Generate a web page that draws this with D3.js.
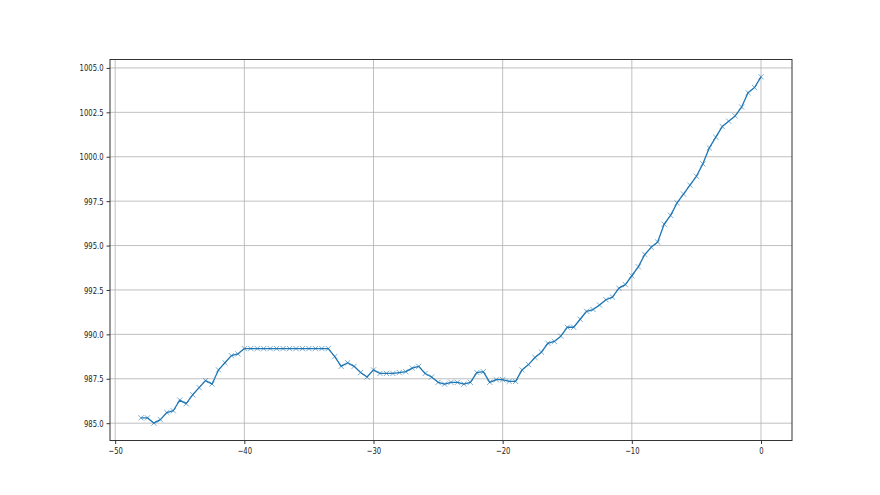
<!DOCTYPE html>
<html>
<head>
<meta charset="utf-8">
<script src="https://cdn.jsdelivr.net/npm/d3@7"></script>
<style>
  body { margin: 0; background: #fff; }
  svg text { font-family: "DejaVu Sans", sans-serif; }
</style>
</head>
<body>
<svg id="chart" width="880" height="495"></svg>
<script>
// data
var minutes = [
  -48, -47.5, -47, -46.5, -46, -45.5, -45, -44.5, -44, -43.5, -43, -42.5,
  -42, -41.5, -41, -40.5, -40, -39.5, -39, -38.5, -38, -37.5, -37, -36.5,
  -36, -35.5, -35, -34.5, -34, -33.5, -33, -32.5, -32, -31.5, -31, -30.5,
  -30, -29.5, -29, -28.5, -28, -27.5, -27, -26.5, -26, -25.5, -25, -24.5,
  -24, -23.5, -23, -22.5, -22, -21.5, -21, -20.5, -20, -19.5, -19, -18.5,
  -18, -17.5, -17, -16.5, -16, -15.5, -15, -14.5, -14, -13.5, -13, -12.5,
  -12, -11.5, -11, -10.5, -10, -9.5, -9, -8.5, -8, -7.5, -7, -6.5,
  -6, -5.5, -5, -4.5, -4, -3.5, -3, -2.5, -2, -1.5, -1, -0.5, 0
]
var pressure = [
  985.3, 985.3, 985.0, 985.2, 985.6, 985.7, 986.3, 986.1, 986.6, 987.0, 987.4, 987.2,
  988.0, 988.4, 988.8, 988.9, 989.2, 989.2, 989.2, 989.2, 989.2, 989.2, 989.2, 989.2,
  989.2, 989.2, 989.2, 989.2, 989.2, 989.2, 988.75, 988.2, 988.4, 988.2, 987.85, 987.6,
  988.0, 987.8, 987.8, 987.8, 987.85, 987.9, 988.1, 988.2, 987.8, 987.6, 987.3, 987.2,
  987.3, 987.3, 987.2, 987.3, 987.85, 987.9, 987.3, 987.45, 987.45, 987.35, 987.35, 988.0,
  988.3, 988.7, 989.0, 989.5, 989.6, 989.9, 990.4, 990.4, 990.85, 991.3, 991.4, 991.65,
  991.95, 992.1, 992.6, 992.8, 993.3, 993.8, 994.5, 994.9, 995.2, 996.2, 996.7, 997.4,
  997.9, 998.4, 998.9, 999.6, 1000.5, 1001.1, 1001.7, 1002.0, 1002.3, 1002.8, 1003.6, 1003.9, 1004.5
]
var xTicks = [-50, -40, -30, -20, -10, 0]
var yTicks = [985.0, 987.5, 990.0, 992.5, 995.0, 997.5, 1000.0, 1002.5, 1005.0]

// constants
var WIDTH = 880, HEIGHT = 495
var MARGIN = { left: 110, right: 88, top: 59.5, bottom: 54.5 }
var LINE_COLOR = '#1f77b4'
var GRID_COLOR = '#b0b0b0'
var SQUEEZE = 0.72 // tick labels look horizontally narrow in the original

var svg = d3.select('#chart')
var plotW = WIDTH - MARGIN.left - MARGIN.right
var plotH = HEIGHT - MARGIN.top - MARGIN.bottom

// matplotlib style 5% padding
var xMin = d3.min(minutes), xMax = d3.max(minutes)
var yMin = d3.min(pressure), yMax = d3.max(pressure)
var xPad = (xMax - xMin) * 0.05, yPad = (yMax - yMin) * 0.05

var x = d3.scaleLinear().domain([xMin - xPad, xMax + xPad]).range([0, plotW])
var y = d3.scaleLinear().domain([yMin - yPad, yMax + yPad]).range([plotH, 0])

var g = svg.append('g').attr('transform', 'translate(' + MARGIN.left + ',' + MARGIN.top + ')')

// grid
g.append('g').selectAll('line').data(xTicks).enter().append('line')
  .attr('x1', function (d) { return x(d) }).attr('x2', function (d) { return x(d) })
  .attr('y1', 0).attr('y2', plotH)
  .attr('stroke', GRID_COLOR).attr('stroke-width', 0.8)
g.append('g').selectAll('line').data(yTicks).enter().append('line')
  .attr('y1', function (d) { return y(d) }).attr('y2', function (d) { return y(d) })
  .attr('x1', 0).attr('x2', plotW)
  .attr('stroke', GRID_COLOR).attr('stroke-width', 0.8)

// axes
var xAxis = d3.axisBottom(x).tickValues(xTicks).tickSize(3.5).tickPadding(3).tickFormat(d3.format('d'))
var yAxis = d3.axisLeft(y).tickValues(yTicks).tickSize(3.5).tickPadding(3).tickFormat(d3.format('.1f'))

var gx = g.append('g').attr('transform', 'translate(0,' + plotH + ')').call(xAxis)
var gy = g.append('g').call(yAxis)
;[gx, gy].forEach(function (ax) {
  ax.select('.domain').remove()
  ax.selectAll('.tick line').attr('stroke', '#000').attr('stroke-width', 0.8)
  ax.selectAll('.tick text').attr('fill', '#222').style('font-size', '9.5px')
})
// squeeze labels horizontally, keeping their anchor points
gy.selectAll('.tick text').each(function () {
  var t = d3.select(this)
  var x0 = +t.attr('x')
  t.attr('x', x0 / SQUEEZE).attr('transform', 'scale(' + SQUEEZE + ',1)')
})
gx.selectAll('.tick text').attr('transform', 'scale(' + SQUEEZE + ',1)')

// line
var data = minutes.map(function (m, i) { return [m, pressure[i]] })
var line = d3.line().x(function (d) { return x(d[0]) }).y(function (d) { return y(d[1]) })
g.append('path').datum(data)
  .attr('d', line)
  .attr('fill', 'none')
  .attr('stroke', LINE_COLOR)
  .attr('stroke-width', 1.3)
  .attr('stroke-linejoin', 'round')

// x markers
var ms = 2.6
g.append('g').selectAll('path').data(data).enter().append('path')
  .attr('d', function (d) {
    var cx = x(d[0]), cy = y(d[1])
    return 'M' + (cx - ms) + ',' + (cy - ms) + 'L' + (cx + ms) + ',' + (cy + ms) +
      'M' + (cx - ms) + ',' + (cy + ms) + 'L' + (cx + ms) + ',' + (cy - ms)
  })
  .attr('stroke', LINE_COLOR)
  .attr('stroke-opacity', 0.6)
  .attr('stroke-width', 1)
  .attr('fill', 'none')

// frame
g.append('rect')
  .attr('width', plotW).attr('height', plotH)
  .attr('fill', 'none').attr('stroke', '#333').attr('stroke-width', 1)
</script>
</body>
</html>
